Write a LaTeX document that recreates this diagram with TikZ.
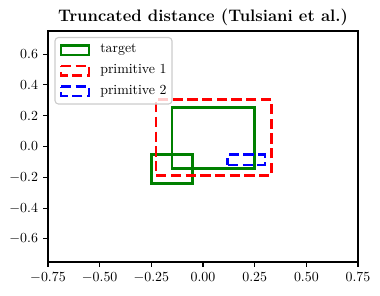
\documentclass[tikz,border=0pt]{standalone}
\usepackage{amsmath}
\begin{document}
\begin{tikzpicture}[x=0.72pt,y=-0.72pt,
  axisline/.style={line width=0.8pt,black},
  tickmark/.style={line width=0.8pt,black},
  ticklab/.style={font=\fontsize{10}{12}\selectfont,inner sep=0pt},
  tgt/.style={draw=green!50!black,line width=2pt,line join=miter},
  prim1/.style={draw=red,line width=2pt,dash pattern=on 7.4pt off 3.2pt},
  prim2/.style={draw=blue,line width=2pt,dash pattern=on 7.4pt off 3.2pt},
  legtext/.style={font=\fontsize{10}{12}\selectfont,anchor=west,inner sep=0pt}]
\definecolor{mplgreen}{HTML}{008000}
\useasboundingbox (0,0) rectangle (380,295);
% title
\node[font=\fontsize{12}{14}\bfseries\selectfont,anchor=base] (title) at (203,21.5) {Truncated distance (Tulsiani et al.)};
% data scope
\begin{scope}[shift={(203,146.5)},x=148.82pt,y=110.88pt]
  \coordinate (ll) at (-0.75,-0.75);
  \coordinate (ur) at (0.75,0.75);
  % rectangles
  \draw[tgt,draw=mplgreen] (-0.15,-0.145) -- (0.25,-0.145) -- (0.25,0.255) -- (-0.15,0.255) -- cycle;
  \draw[tgt,draw=mplgreen] (-0.25,-0.24) -- (-0.05,-0.24) -- (-0.05,-0.05) -- (-0.25,-0.05) -- cycle;
  \draw[prim1] (-0.227,-0.19) -- (0.33,-0.19) -- (0.33,0.305) -- (-0.227,0.305) -- cycle;
  \draw[prim2] (0.12,-0.12) -- (0.3,-0.12) -- (0.3,-0.053) -- (0.12,-0.053) -- cycle;
  % x ticks
  \foreach \v/\t in {-0.75/{-0.75},-0.5/{-0.50},-0.25/{-0.25},0/{0.00},0.25/{0.25},0.5/{0.50},0.75/{0.75}}{
    \draw[tickmark] (\v,-0.75) -- ++(0,-3.5pt);
    \node[ticklab,anchor=base] (xt\v) at ([yshift=-3.5pt-3.5pt-7.3pt]\v,-0.75) {$\t$};
  }
  % y ticks
  \foreach \v/\t in {-0.6/{-0.6},-0.4/{-0.4},-0.2/{-0.2},0/{0.0},0.2/{0.2},0.4/{0.4},0.6/{0.6}}{
    \draw[tickmark] (-0.75,\v) -- ++(-3.5pt,0);
    \node[ticklab,anchor=east] (yt\v) at ([xshift=-7pt]-0.75,\v) {$\t$};
  }
  % axes frame
  \draw[axisline] (ll) rectangle (ur);
\end{scope}
% legend
\draw[draw=black!20,fill=white,fill opacity=0.8,line width=0.8pt,rounded corners=2.5pt] (55,37.5) rectangle (172,104);
\draw[tgt,draw=mplgreen] (61,45.5) rectangle (89,55);
\draw[prim1] (61,66) -- (89,66) -- (89,75.5) -- (61,75.5) -- cycle;
\draw[prim2] (61,86.5) -- (89,86.5) -- (89,96) -- (61,96) -- cycle;
\node[legtext] (l1) at (100,50) {target};
\node[legtext] (l2) at (100,70.5) {primitive 1};
\node[legtext] (l3) at (100,91) {primitive 2};
\end{tikzpicture}
\end{document}
